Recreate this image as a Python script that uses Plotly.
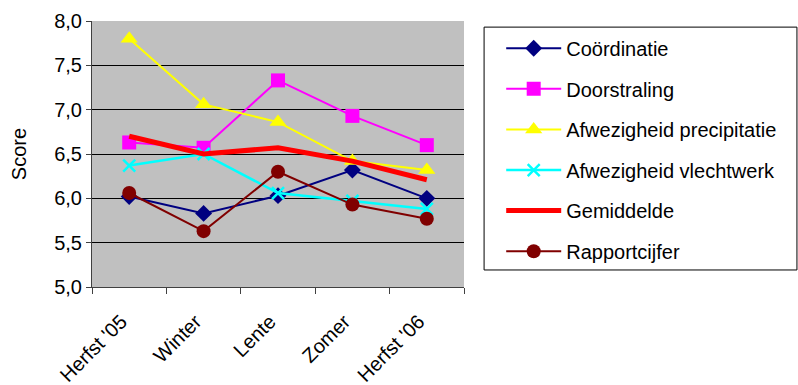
import plotly.graph_objects as go

seasons = ["Herfst '05", "Winter", "Lente", "Zomer", "Herfst '06"]

coordinatie = [6.02, 5.83, 6.03, 6.32, 6.00]
doorstraling = [6.63, 6.57, 7.33, 6.93, 6.60]
afw_precipitatie = [7.80, 7.06, 6.86, 6.42, 6.32]
afw_vlechtwerk = [6.37, 6.50, 6.06, 5.97, 5.88]
gemiddelde = [6.70, 6.50, 6.57, 6.42, 6.21]
rapportcijfer = [6.06, 5.63, 6.30, 5.93, 5.77]

y_ticks = [5.0, 5.5, 6.0, 6.5, 7.0, 7.5, 8.0]
y_tick_text = ["5,0", "5,5", "6,0", "6,5", "7,0", "7,5", "8,0"]

series = [
    ("Coördinatie", coordinatie, "#000080", 2, dict(symbol="diamond", size=13, color="#000080")),
    ("Doorstraling", doorstraling, "#FF00FF", 2, dict(symbol="square", size=14, color="#FF00FF")),
    ("Afwezigheid precipitatie", afw_precipitatie, "#FFFF00", 2, dict(symbol="triangle-up", size=15, color="#FFFF00")),
    ("Afwezigheid vlechtwerk", afw_vlechtwerk, "#00FFFF", 2.5,
     dict(symbol="x-thin", size=12, color="#00FFFF", line=dict(color="#00FFFF", width=2.5))),
    ("Gemiddelde", gemiddelde, "#FF0000", 5, None),
    ("Rapportcijfer", rapportcijfer, "#800000", 2, dict(symbol="circle", size=14, color="#800000")),
]

fig = go.Figure()
for i, (name, vals, color, width, marker) in enumerate(series):
    fig.add_trace(go.Scatter(
        x=seasons, y=vals, name=name,
        mode="lines+markers" if marker else "lines",
        line=dict(color=color, width=width),
        marker=marker,
        legendgroup=f"g{i}",
    ))

font_family = "Liberation Sans, Arial, sans-serif"

# framed box behind the legend entries
fig.add_shape(
    type="rect", xref="paper", yref="paper",
    x0=1.054, x1=1.895, y0=0.064, y1=0.977,
    line=dict(color="black", width=1), fillcolor="white", layer="below",
)

fig.update_layout(
    width=798, height=385,
    margin=dict(l=92, r=334, t=21, b=98),
    paper_bgcolor="white",
    plot_bgcolor="#C0C0C0",
    font=dict(family=font_family, size=20, color="black"),
    showlegend=True,
    legend=dict(
        x=1.1, y=0.971, xanchor="left", yanchor="top",
        bgcolor="rgba(0,0,0,0)", borderwidth=0,
        font=dict(size=20, family=font_family),
        tracegroupgap=11.6, itemwidth=55,
    ),
    xaxis=dict(
        range=[-0.5, 4.5],
        tickangle=-45,
        ticks="outside", ticklen=6, tickcolor="#404040",
        tickson="boundaries",
        ticklabelstandoff=14, ticklabelshift=-8,
        automargin=False,
        showline=True, linecolor="#404040", linewidth=1,
        showgrid=False, zeroline=False,
        tickfont=dict(size=20),
    ),
    yaxis=dict(
        range=[5.0, 8.0],
        tickvals=y_ticks, ticktext=y_tick_text,
        ticks="outside", ticklen=5, tickcolor="#404040",
        showline=True, linecolor="#404040", linewidth=1,
        showgrid=True, gridcolor="black", gridwidth=1,
        zeroline=False, automargin=False,
        title=dict(text="Score", font=dict(size=20), standoff=22),
        tickfont=dict(size=20),
    ),
)

fig.write_html("out.html")
